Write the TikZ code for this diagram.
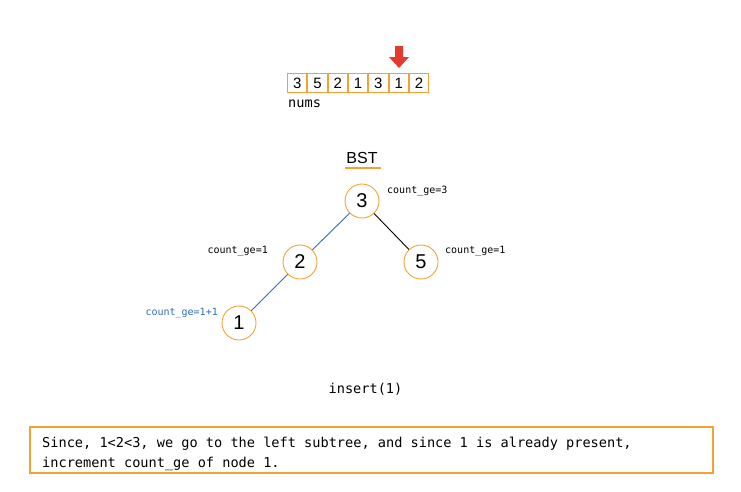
\documentclass[tikz,border=0pt]{standalone}
\usepackage{fontspec}
\setmainfont{Liberation Sans}
\setsansfont{Liberation Sans}
\newfontfamily\codefont{DejaVu Sans Mono}
\usepackage{xcolor}
\definecolor{treeorange}{HTML}{F5A033}
\definecolor{pathblue}{HTML}{2F6DB5}
\definecolor{markred}{HTML}{E23B2E}
\usetikzlibrary{positioning}

\begin{document}
\begin{tikzpicture}[x=1pt, y=-1pt,
  cell/.style={draw=treeorange, line width=0.9pt, minimum width=19.4pt, minimum height=19pt,
    inner sep=0pt, font=\fontsize{15}{15}\selectfont\sffamily},
  bstnode/.style={circle, draw=treeorange, line width=0.9pt, minimum size=34pt, inner sep=0pt,
    font=\fontsize{20}{20}\selectfont\sffamily},
  cnt/.style={font=\codefont\fontsize{10}{10}\selectfont, inner sep=0pt},
  mono/.style={font=\codefont\fontsize{13.6}{13.6}\selectfont, inner sep=0pt}]
\useasboundingbox (0,0) rectangle (741,491);

% the array
\node[cell] (c1) at (297.2,83) {3};
\node[cell, right=0pt of c1] (c2) {5};
\node[cell, right=0pt of c2] (c3) {2};
\node[cell, right=0pt of c3] (c4) {1};
\node[cell, right=0pt of c4] (c5) {3};
\node[cell, right=0pt of c5] (c6) {1};
\node[cell, right=0pt of c6] (c7) {2};
\node[mono, anchor=west] (nums) at (288,104) {nums};

% the arrow over the current element
\fill[markred] (395,46) -- (403,46) -- (403,57) -- (409,57) -- (399,68) -- (389,57) -- (395,57) -- cycle;

% the tree
\node[font=\fontsize{16}{16}\selectfont\sffamily, inner sep=0pt] (bst) at (362,158) {BST};
\draw[treeorange, line width=2.8pt] (345,168) -- (381,168);

\node[bstnode] (n3) at (362,201) {3};
\node[bstnode] (n2) at (300,262) {2};
\node[bstnode] (n5) at (421,262) {5};
\node[bstnode] (n1) at (239,323) {1};

\draw[pathblue, line width=0.9pt] (n3) -- (n2);
\draw[black, line width=0.9pt] (n3) -- (n5);
\draw[pathblue, line width=0.9pt] (n2) -- (n1);

\node[cnt, anchor=west] (l3) at (387,191) {count\_ge=3};
\node[cnt, anchor=east] (l2) at (268,251) {count\_ge=1};
\node[cnt, anchor=west] (l5) at (445,251) {count\_ge=1};
\node[cnt, anchor=east, text=pathblue] (l1) at (218,313) {count\_ge=1+1};

\node[mono] (op) at (365.5,389) {insert(1)};

% the explanation
\node[draw=treeorange, line width=1.2pt, minimum width=683pt, minimum height=46pt] (note) at (371.5,450) {};
\node[mono, anchor=base west] (line1) at (42,447) {Since, 1<2<3, we go to the left subtree, and since 1 is already present,};
\node[mono, anchor=base west] (line2) at (42,467) {increment count\_ge of node 1.};
\end{tikzpicture}
\end{document}
